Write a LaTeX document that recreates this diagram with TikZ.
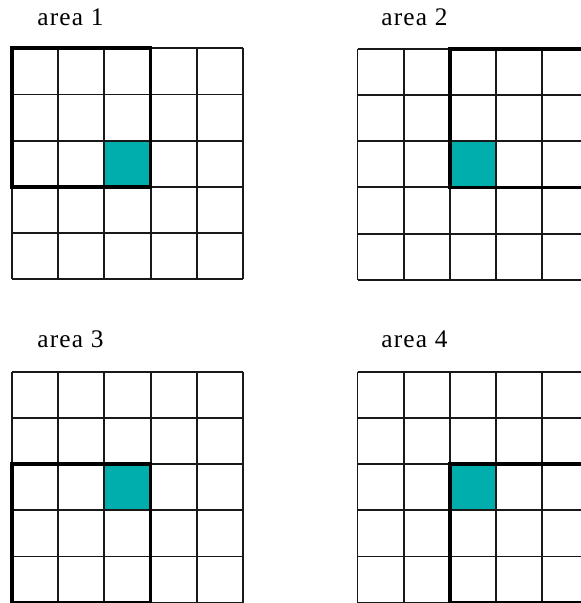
\documentclass[tikz,border=0pt]{standalone}
\usepackage{fontspec}
\setmainfont{Liberation Serif}[LetterSpace=5]
\definecolor{tealcell}{RGB}{0,174,174}
\begin{document}
\begin{tikzpicture}[x=0.75pt,y=-0.75pt,
  gridline/.style={line width=1.4pt,black!90},
  thickline/.style={line width=2.8pt,black,line cap=rect},
  cellfill/.style={fill=tealcell,draw=black,line width=1.4pt},
  arealabel/.style={anchor=base west,inner sep=0pt,font=\fontsize{19pt}{21pt}\selectfont,text=black}]
\useasboundingbox (0,0) rectangle (581,603);
\clip (0,0) rectangle (581,603);
\def\cs{46.2}
% area: #1 x0, #2 y0, #3 thick col start, #4 thick row start
\newcommand\areagrid[4]{%
  \fill[white] (#1,#2) rectangle ({#1+5*\cs},{#2+5*\cs});
  \draw[cellfill] ({#1+2*\cs},{#2+2*\cs}) rectangle ({#1+3*\cs},{#2+3*\cs});
  \foreach \i in {0,...,5}{
    \draw[gridline] ({#1+\i*\cs},#2) -- ({#1+\i*\cs},{#2+5*\cs});
    \draw[gridline] (#1,{#2+\i*\cs}) -- ({#1+5*\cs},{#2+\i*\cs});
  }
  \draw[thickline] ({#1+#3*\cs},{#2+#4*\cs}) rectangle ({#1+(#3+3)*\cs},{#2+(#4+3)*\cs});
}
\areagrid{12}{48.3}{0}{0}
\areagrid{357.5}{48.8}{2}{0}
\areagrid{12}{371.7}{0}{2}
\areagrid{357.5}{371.7}{2}{2}
\node[arealabel] (l1) at (37,26) {area 1};
\node[arealabel] (l2) at (381,26) {area 2};
\node[arealabel] (l3) at (37,347.5) {area 3};
\node[arealabel] (l4) at (381,347.5) {area 4};
\end{tikzpicture}
\end{document}
